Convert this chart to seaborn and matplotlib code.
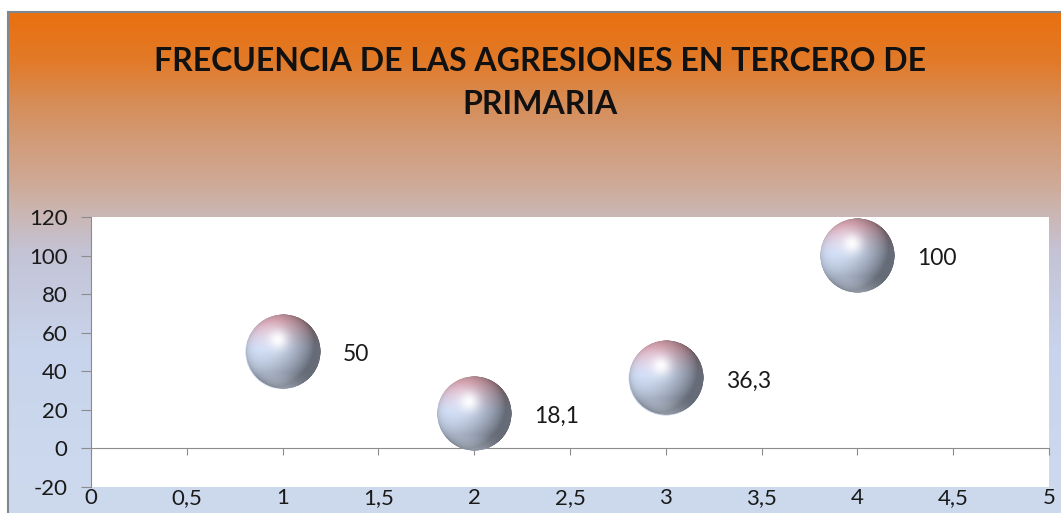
import numpy as np
import matplotlib
matplotlib.use('Agg')
import matplotlib.pyplot as plt
import seaborn as sns
from matplotlib.colors import LinearSegmentedColormap
from matplotlib.offsetbox import OffsetImage, AnnotationBbox
from matplotlib.ticker import FuncFormatter, MultipleLocator

# datos
x_vals = [1, 2, 3, 4]
y_vals = [50, 18.1, 36.3, 100]
bubble_sizes = [1, 1, 1, 1]
point_labels = ['50', '18,1', '36,3', '100']
titulo = 'FRECUENCIA DE LAS AGRESIONES EN TERCERO DE\nPRIMARIA'

sns.set_style('white')
plt.rcParams['font.family'] = ['Lato', 'DejaVu Sans']


def esfera(n=200):
    # imagen RGBA de una esfera brillante (estilo burbuja de Excel)
    v, u = np.mgrid[1:-1:n * 1j, -1:1:n * 1j]
    r2 = u ** 2 + v ** 2
    z = np.sqrt(np.clip(1 - r2, 0, 1))
    azul = np.array([0.80, 0.85, 0.94])
    rosa = np.array([0.90, 0.63, 0.67])
    w = np.clip((v - 0.05) / 0.8, 0, 1) ** 1.2 * 0.8
    base = (1 - w)[..., None] * azul + w[..., None] * rosa
    L = np.array([-0.55, 0.35, 0.76])
    L = L / np.linalg.norm(L)
    d = np.clip(u * L[0] + v * L[1] + z * L[2], 0, 1)
    shade = 0.5 + 0.55 * d
    col = base * shade[..., None]
    # brillo reflejado abajo
    refl = 0.18 * np.clip((-v - 0.55) / 0.45, 0, 1) * np.clip(1 - u ** 2 * 2, 0, 1)
    col = col + refl[..., None]
    spec = 0.95 * np.exp(-((u + 0.15) ** 2 + (v - 0.32) ** 2) / 0.07)
    col = col * (1 - spec[..., None]) + spec[..., None]
    col = np.clip(col, 0, 1)
    alpha = np.clip((1 - np.sqrt(r2)) * n / 2, 0, 1)
    return np.dstack([col, alpha])


fig = plt.figure(figsize=(10.61, 5.13), dpi=100)
fig.patch.set_facecolor('white')

# fondo degradado del grafico
bg = fig.add_axes([8 / 1061, 0, 1 - 8 / 1061, 501 / 513], zorder=-10)
cmap = LinearSegmentedColormap.from_list(
    'fondo',
    [(0, '#e9700f'), (0.096, '#e27a28'), (0.176, '#d78c55'), (0.255, '#d29b78'),
     (0.335, '#cfa894'), (0.40, '#cbb6b2'), (0.48, '#c4c3d6'), (0.67, '#c8d4eb'),
     (1, '#cddaee')])
bg.imshow(np.linspace(0, 1, 256)[:, None], cmap=cmap, aspect='auto',
          extent=[0, 1, 0, 1])
bg.set_xlim(0, 1)
bg.set_ylim(0, 1)
bg.set_xticks([])
bg.set_yticks([])
for s in ['right', 'bottom']:
    bg.spines[s].set_visible(False)
for s in ['top', 'left']:
    bg.spines[s].set_color('#7f8890')
    bg.spines[s].set_linewidth(1.5)

ax = fig.add_axes([91 / 1061, 26 / 513, 958 / 1061, 270 / 513])
ax.set_facecolor('white')

size_pt2 = 2850
sns.scatterplot(x=x_vals, y=y_vals, size=bubble_sizes, sizes=(size_pt2, size_pt2),
                color='#bcc6da', edgecolor='none', legend=False, ax=ax, zorder=2)

img = esfera(200)
for xv, yv, lab in zip(x_vals, y_vals, point_labels):
    ab = AnnotationBbox(OffsetImage(img, zoom=np.sqrt(size_pt2) / 200), (xv, yv),
                        frameon=False, zorder=3)
    ax.add_artist(ab)
    ax.annotate(lab, (xv, yv), xytext=(43, -2), textcoords='offset points',
                ha='left', va='center', fontsize=16.5, color='#1a1a1a')

ax.set_xlim(0, 5)
ax.set_ylim(-20, 120)
ax.xaxis.set_major_locator(MultipleLocator(0.5))
ax.yaxis.set_major_locator(MultipleLocator(20))
coma = FuncFormatter(lambda v, p: f'{v:g}'.replace('.', ','))
ax.xaxis.set_major_formatter(coma)
ax.yaxis.set_major_formatter(coma)

for s in ['top', 'right', 'bottom']:
    ax.spines[s].set_visible(False)
ax.spines['left'].set_color('#8c8c8c')
ax.tick_params(axis='y', left=True, length=7, color='#8c8c8c', pad=10,
               labelsize=16, labelcolor='#1a1a1a')
ax.tick_params(axis='x', bottom=False, length=0, pad=1,
               labelsize=16, labelcolor='#1a1a1a')

# eje horizontal en y = 0
ymin, ymax = ax.get_ylim()
eje0 = ax.secondary_xaxis((0 - ymin) / (ymax - ymin))
eje0.xaxis.set_major_locator(MultipleLocator(0.5))
eje0.spines['bottom'].set_color('#8c8c8c')
eje0.tick_params(axis='x', direction='out', length=5, color='#8c8c8c',
                 labelbottom=False)

fig.text(0.509, 0.908, titulo, ha='center', va='top', fontsize=23,
         fontweight='bold', color='#111111', linespacing=1.56)

fig.savefig('out.png', dpi=100)
